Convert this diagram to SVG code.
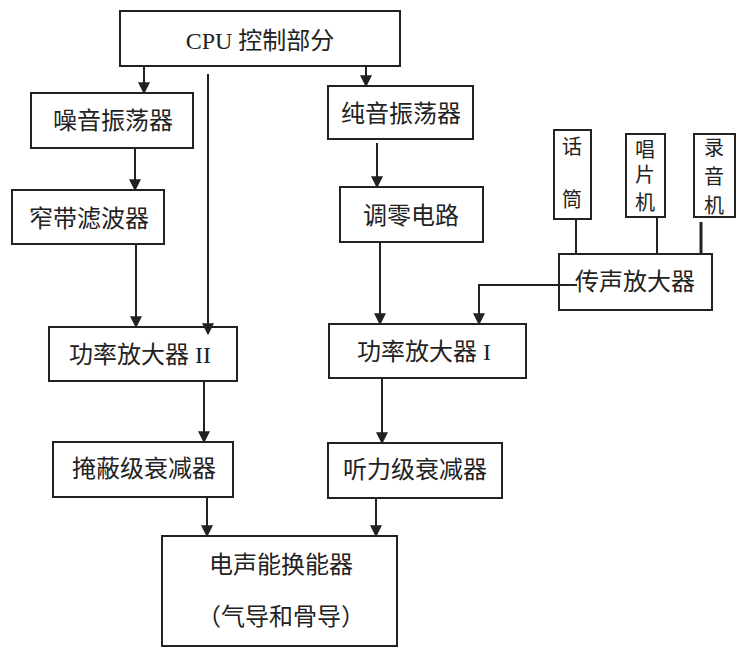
<svg xmlns="http://www.w3.org/2000/svg" width="743" height="650" viewBox="0 0 743 650">
<style>
rect{fill:#fff;stroke:#222;stroke-width:2}
text{font-family:"Liberation Serif","Noto Sans CJK SC",serif;font-size:24px;fill:#222;text-anchor:middle;dominant-baseline:central}
.s{font-size:20px}
.c line,.c path{stroke:#222;stroke-width:2;fill:none}
</style>
<defs>
<marker id="a" viewBox="0 0 10 10" refX="9" refY="5" markerWidth="6" markerHeight="6" orient="auto" markerUnits="strokeWidth">
<path d="M0,0L10,5L0,10z" fill="#222"/>
</marker>
</defs>
<rect x="0" y="0" width="743" height="650" style="fill:#fff;stroke:none"/>
<g id="cpu"><rect x="120" y="11" width="280" height="55"/><text x="260" y="41">CPU 控制部分</text></g>
<g id="noise"><rect x="31" y="93" width="162" height="55"/><text x="113" y="121">噪音振荡器</text></g>
<g id="pure"><rect x="328" y="86" width="145" height="53"/><text x="401" y="114">纯音振荡器</text></g>
<g id="filter"><rect x="12" y="190" width="152" height="54"/><text x="89" y="219">窄带滤波器</text></g>
<g id="zero"><rect x="340" y="187" width="143" height="55"/><text x="411" y="216">调零电路</text></g>
<g id="mic"><rect x="554" y="130" width="37" height="89"/><text class="s" x="572" y="147">话</text><text class="s" x="572" y="200">筒</text></g>
<g id="player"><rect x="626" y="134" width="39" height="83"/><text class="s" x="645" y="150">唱</text><text class="s" x="645" y="175">片</text><text class="s" x="645" y="203">机</text></g>
<g id="recorder"><rect x="694" y="134" width="41" height="83"/><text class="s" x="714" y="148">录</text><text class="s" x="714" y="177">音</text><text class="s" x="714" y="206">机</text></g>
<g id="micamp"><rect x="559" y="254" width="153" height="56"/></g>
<g id="pa2"><rect x="49" y="327" width="188" height="54"/><text x="140" y="355">功率放大器 II</text></g>
<g id="pa1"><rect x="329" y="324" width="197" height="54"/><text x="424" y="352">功率放大器 I</text></g>
<g id="mask"><rect x="53" y="442" width="180" height="55"/><text x="144" y="469">掩蔽级衰减器</text></g>
<g id="hear"><rect x="328" y="443" width="174" height="55"/><text x="415" y="470">听力级衰减器</text></g>
<g id="trans"><rect x="162" y="536" width="235" height="110"/><text x="281" y="565">电声能换能器</text><text x="281" y="617">（气导和骨导）</text></g>
<g class="c">
<line x1="144" y1="66" x2="144" y2="93" marker-end="url(#a)"/>
<line x1="366" y1="66" x2="366" y2="86" marker-end="url(#a)"/>
<line x1="208" y1="74" x2="208" y2="334" marker-end="url(#a)"/>
<line x1="135" y1="148" x2="135" y2="190" marker-end="url(#a)"/>
<line x1="136" y1="244" x2="136" y2="327" marker-end="url(#a)"/>
<line x1="377" y1="143" x2="377" y2="187" marker-end="url(#a)"/>
<line x1="380" y1="242" x2="380" y2="324" marker-end="url(#a)"/>
<path d="M577,285H479V324" marker-end="url(#a)"/>
<line x1="576" y1="219" x2="576" y2="254"/>
<line x1="657" y1="217" x2="657" y2="254"/>
<line x1="701" y1="222" x2="701" y2="254" style="stroke-width:3"/>
<line x1="204" y1="381" x2="204" y2="442" marker-end="url(#a)"/>
<line x1="382" y1="378" x2="382" y2="443" marker-end="url(#a)"/>
<line x1="207" y1="497" x2="207" y2="536" marker-end="url(#a)"/>
<line x1="376" y1="498" x2="376" y2="536" marker-end="url(#a)"/>
</g>
<text x="635" y="282">传声放大器</text>
</svg>
